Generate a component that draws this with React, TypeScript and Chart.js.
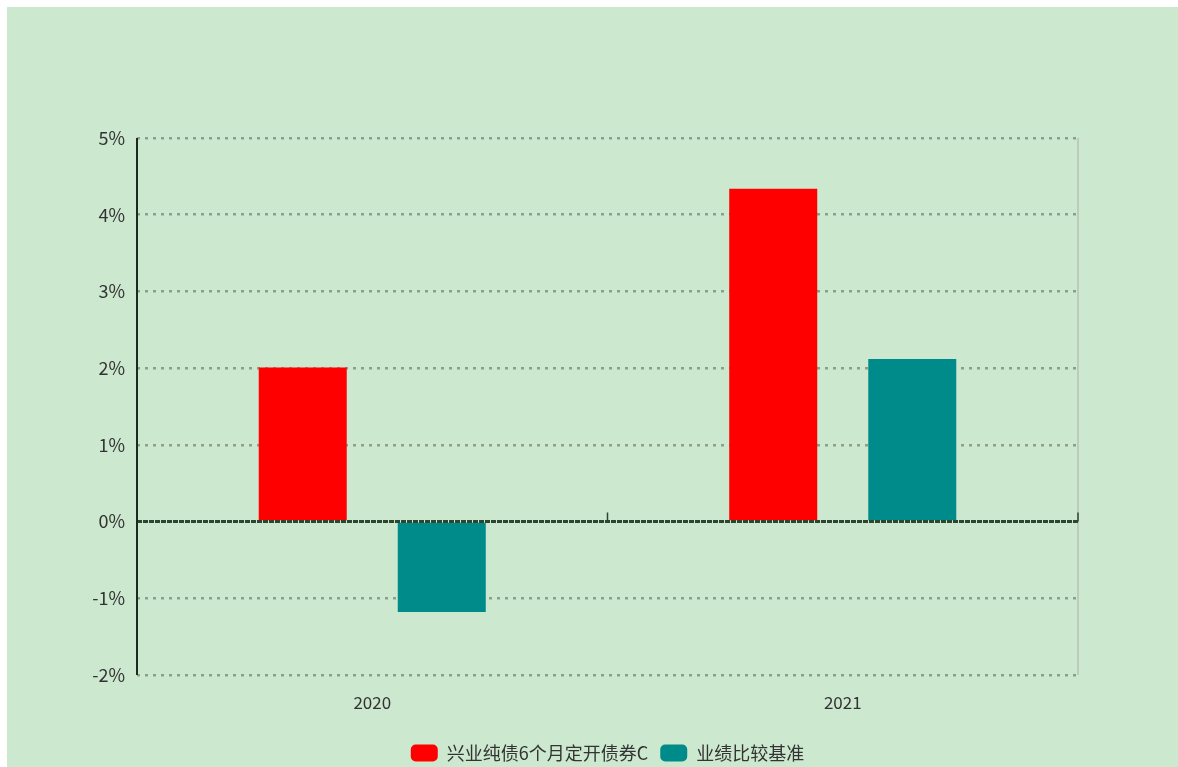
import React, { useEffect, useRef } from "react";
import { Chart, registerables } from "chart.js";

Chart.register(...registerables);

const categories = ["2020", "2021"];
const fundValues = [2.01, 4.34];
const benchValues = [-1.18, 2.12];
const seriesNames = ["兴业纯债6个月定开债券C", "业绩比较基准"];
const yMin = -2;
const yMax = 5;

const FONT = "'Noto Sans CJK SC', 'Liberation Sans', sans-serif";

const axisPlugin = {
  id: "axisExtras",
  beforeDatasetsDraw(chart: any) {
    const { ctx, chartArea } = chart;
    ctx.save();
    ctx.strokeStyle = "#b9c2b9";
    ctx.lineWidth = 1.5;
    ctx.beginPath();
    ctx.moveTo(chartArea.right, chartArea.top);
    ctx.lineTo(chartArea.right, chartArea.bottom);
    ctx.stroke();
    ctx.restore();
  },
  afterDatasetsDraw(chart: any) {
    const { ctx, scales, chartArea } = chart;
    const x = scales.x;
    const y = scales.y;
    const y0 = y.getPixelForValue(0);
    const n = chart.data.labels.length;
    const marks: number[] = [];
    for (let i = 0; i < n - 1; i++) {
      marks.push((x.getPixelForValue(i) + x.getPixelForValue(i + 1)) / 2);
    }
    marks.push(chartArea.right);
    ctx.save();
    ctx.strokeStyle = "#2c4632";
    ctx.lineWidth = 3;
    ctx.setLineDash([5, 1]);
    ctx.beginPath();
    ctx.moveTo(chartArea.left, y0);
    ctx.lineTo(chartArea.right, y0);
    ctx.stroke();
    ctx.setLineDash([]);
    ctx.lineWidth = 1.5;
    ctx.beginPath();
    for (const m of marks) {
      ctx.moveTo(m, y0);
      ctx.lineTo(m, y0 - 9);
    }
    ctx.stroke();
    ctx.strokeStyle = "#1e2a20";
    ctx.lineWidth = 2;
    ctx.beginPath();
    ctx.moveTo(chartArea.left, chartArea.top);
    ctx.lineTo(chartArea.left, chartArea.bottom);
    ctx.stroke();
    ctx.restore();
  },
};

export default function App() {
  const ref = useRef<HTMLCanvasElement | null>(null);
  useEffect(() => {
    if (!ref.current) return;
    const chart = new Chart(ref.current, {
      type: "bar",
      data: {
        labels: categories,
        datasets: [
          {
            label: seriesNames[0],
            data: fundValues,
            backgroundColor: "#ff0000",
            borderWidth: 0,
          },
          {
            label: seriesNames[1],
            data: benchValues,
            backgroundColor: "#008b8b",
            borderWidth: 0,
          },
        ],
      },
      options: {
        animation: false,
        responsive: false,
        devicePixelRatio: 1,
        layout: { padding: { top: 131, right: 100, left: 0, bottom: 10 } },
        datasets: {
          bar: { categoryPercentage: 0.591, barPercentage: 0.633 },
        },
        scales: {
          x: {
            grid: { display: false, drawTicks: false },
            border: { display: false },
            ticks: {
              padding: 17,
              color: "#333333",
              font: { family: FONT, size: 17 },
            },
            afterFit: (s: any) => {
              s.height = 57;
            },
          },
          y: {
            min: yMin,
            max: yMax,
            grid: {
              drawTicks: false,
              color: (ctx: any) => (ctx.tick && ctx.tick.value === 0 ? "rgba(0,0,0,0)" : "#8d9e8f"),
              lineWidth: 2.5,
            },
            border: { display: false, dash: [3, 5] },
            ticks: {
              stepSize: 1,
              padding: 12,
              color: "#333333",
              font: { family: FONT, size: 18 },
              callback: (v: any) => `${v}%`,
            },
            afterFit: (s: any) => {
              s.width = 130;
            },
          },
        },
        plugins: {
          tooltip: { enabled: false },
          legend: {
            position: "bottom",
            fullSize: false,
            labels: {
              boxWidth: 27,
              boxHeight: 17,
              useBorderRadius: true,
              borderRadius: 5,
              padding: 12,
              color: "#333333",
              font: { family: FONT, size: 18 },
            },
          },
        },
      },
      plugins: [axisPlugin],
    } as any);
    return () => chart.destroy();
  }, []);
  return (
    <div
      style={{
        position: "fixed",
        left: 7,
        top: 7,
        right: 0,
        bottom: 0,
        background: "#cce8cf",
        overflow: "hidden",
      }}
    >
      <canvas ref={ref} width={1171} height={775} style={{ width: 1171, height: 775, display: "block" }} />
    </div>
  );
}
